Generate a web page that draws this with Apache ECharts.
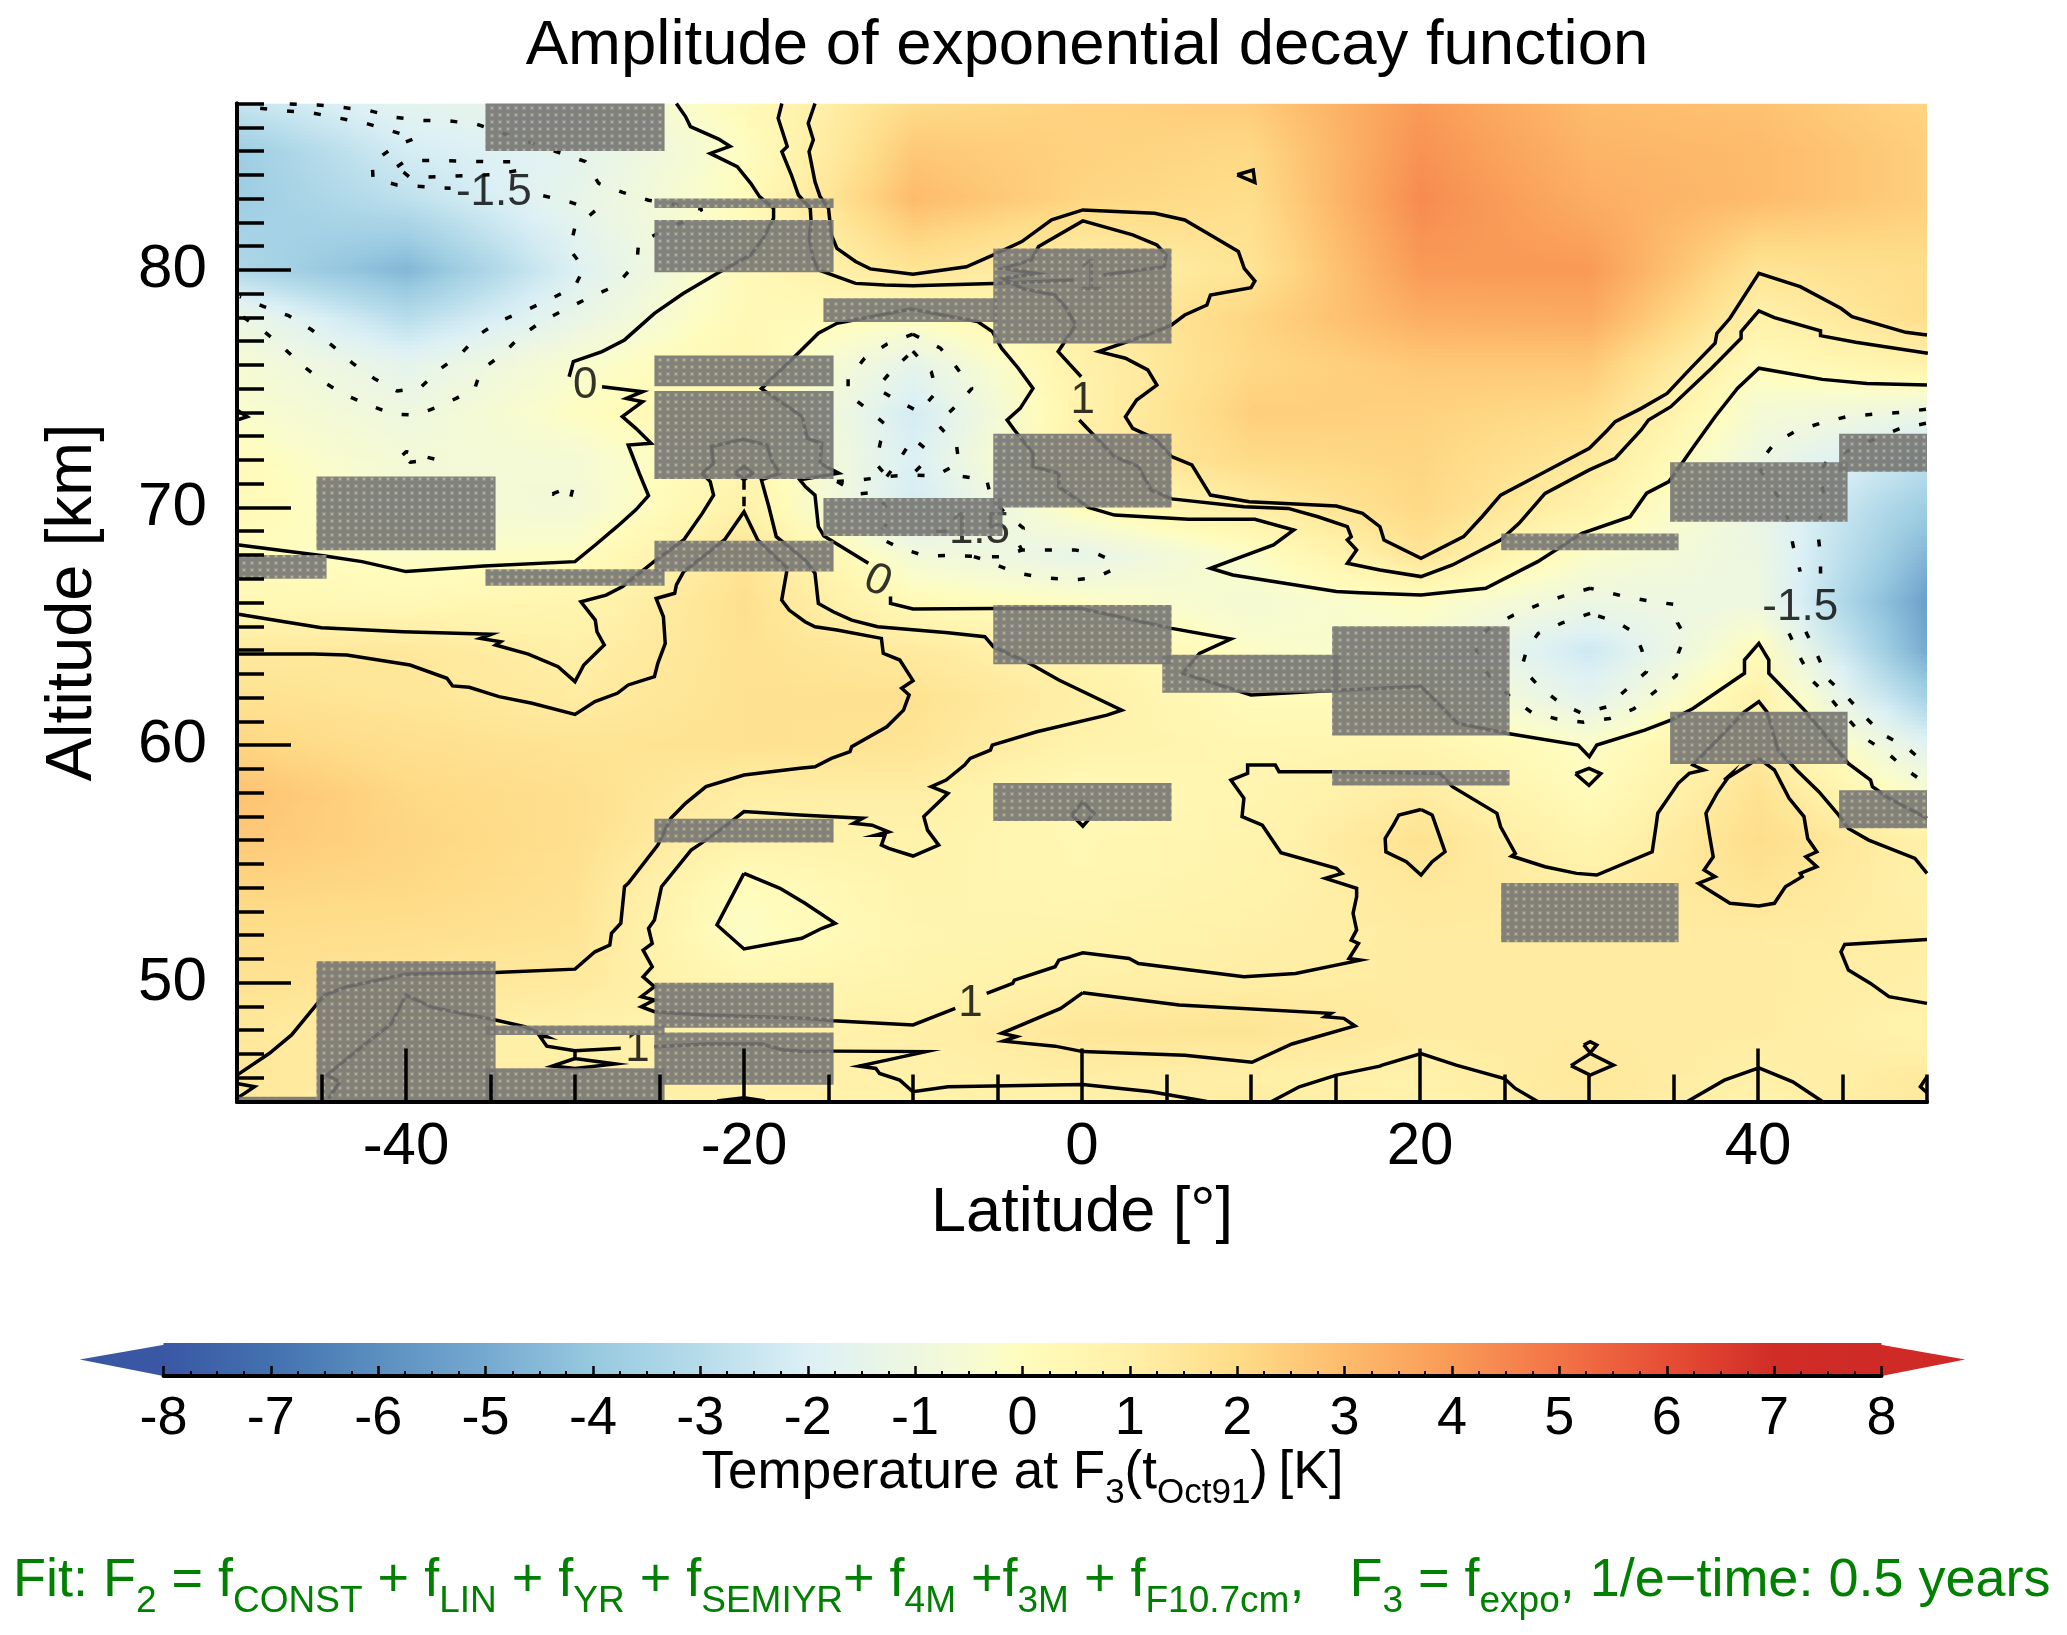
<!DOCTYPE html>
<html>
<head>
<meta charset="utf-8">
<style>html,body{margin:0;padding:0;background:#fff}#chart{width:2067px;height:1635px}</style>
<script src="https://cdn.jsdelivr.net/npm/echarts@6/dist/echarts.min.js"></script>
</head>
<body>
<div id="chart"></div>
<script>
const FONT = '"Liberation Sans", Arial, Helvetica, sans-serif';

// ---- temperature field (K) ----
const latitudes = [-50,-40,-30,-20,-10,0,10,20,30,40,50];
const altitudes = [87,85,83,80,78,76,74,72,70,68,66,64,62,60,58,56,54,52,50,48,46,45];
const temperature = [
 [-2.6,-1.6,-1.2, 0.2, 2.0, 2.3, 2.5, 4.0, 3.0, 2.8, 2.2],
 [-3.8,-2.2,-1.6,-0.1, 2.6, 2.3, 2.1, 4.2, 3.2, 3.0, 2.4],
 [-3.8,-2.8,-1.4, 0.1, 3.0, 2.2, 1.9, 4.4, 3.4, 3.0, 2.4],
 [-3.2,-4.6,-1.9, 0.2, 1.6, 0.9, 1.6, 4.0, 4.0, 1.6, 1.9],
 [-1.1,-3.0,-1.3, 0.3, 0.0, 1.0, 2.2, 3.4, 3.5, 0.9, 1.9],
 [-0.5,-1.5,-0.4, 0.5,-1.5, 0.9, 2.1, 2.6, 2.6, 0.1, 0.8],
 [-0.3,-1.0,-0.1, 0.6,-2.2, 0.8, 2.4, 2.3, 2.0,-0.6,-1.1],
 [ 0.1,-0.7,-0.6, 0.5,-2.0, 1.1, 2.0, 2.2, 1.4,-1.0,-2.8],
 [ 0.3,-0.6,-0.7, 0.9,-2.2, 0.1, 1.1, 2.1, 0.8,-1.3,-3.8],
 [ 0.0,-0.2,-0.1, 1.6,-0.7,-1.4,-0.2, 1.6,-0.3,-1.1,-4.6],
 [ 0.4, 0.3, 0.6, 1.8, 0.2,-0.1,-0.6,-0.1,-1.1,-1.0,-5.4],
 [ 1.3, 1.4, 1.0, 1.7, 1.3, 0.7,-0.2,-0.5,-2.4, 0.1,-5.0],
 [ 1.7, 1.5, 1.2, 1.7, 1.7, 1.0, 0.1, 0.1,-1.6, 0.9,-3.6],
 [ 2.2, 1.8, 1.6, 1.7, 1.6, 0.8, 0.5, 0.6,-0.2, 1.3,-1.7],
 [ 2.8, 2.1, 1.8, 1.1, 1.1, 0.2, 0.6, 1.2, 0.1, 1.7,-0.4],
 [ 2.6, 2.2, 1.8, 0.8, 0.8, 0.4, 0.7, 1.7, 0.6, 1.9, 0.9],
 [ 2.2, 2.1, 1.7, 0.0, 0.7, 0.5, 0.8, 1.4, 1.1, 1.6, 0.9],
 [ 1.9, 1.8, 1.6,-0.2, 0.6, 0.7, 1.0, 1.2, 1.2, 1.2, 1.1],
 [ 1.7, 1.5, 1.3, 0.5, 0.7, 1.0, 1.1, 1.2, 1.2, 1.2, 1.0],
 [ 1.4, 1.1, 0.9, 0.8, 1.0, 1.5, 1.6, 1.2, 1.2, 1.2, 0.8],
 [ 1.5, 1.0, 1.1, 0.9, 0.9, 1.1, 1.0, 0.9, 1.4, 0.95,1.3],
 [ 1.4, 0.9, 1.0, 0.98,0.8, 0.9, 1.2, 0.8, 1.3, 0.85,1.3]
];

// ---- colour scale ----
const scaleValues = [-8,-7,-6,-5,-4,-3,-2,-1,-0.3,0,1,2,3,4,5,6,7,8];
const scaleColors = ['#3a57a4','#4371b0','#5b8fc0','#76a9d0','#97c9e0','#b6dcea','#dcf0f6','#eef7e0','#f9fccc','#fffcbc','#fff0a8','#fedc88','#fdbb6c','#f99a57','#f37346','#e64e35','#d12d27','#cf2a26'];

// ---- grey masked cells [lat0, lat1, altLow, altHigh] ----
const maskBoxes = [
 [-35.3,-24.7,85.0,87.0],[-25.3,-14.7,82.6,83.0],[-25.3,-14.7,79.9,82.1],[-25.3,-14.7,75.1,76.4],
 [-25.3,-14.7,71.2,74.9],[-15.3,-5.0,77.8,78.8],[-5.25,5.3,76.9,80.9],[-5.25,5.3,70.0,73.1],
 [-45.3,-34.7,68.2,71.3],[-50,-44.7,67.0,68.0],[-35.3,-24.7,66.7,67.4],[-25.3,-14.7,67.3,68.6],
 [-15.3,-4.7,68.8,70.4],[-5.25,5.3,63.4,65.9],[4.75,15.3,62.2,63.8],[14.8,25.3,60.4,65.0],
 [14.8,25.3,58.3,58.95],[34.8,45.3,69.4,71.9],[44.8,50,71.5,73.1],[24.8,35.3,68.2,68.9],
 [34.8,45.3,59.2,61.4],[-5.25,5.3,56.8,58.4],[-25.3,-14.7,55.9,56.9],[44.8,50,56.5,58.1],
 [24.8,35.3,51.7,54.2],[-45.3,-34.7,45,50.9],[-35.3,-24.7,47.8,48.2],[-35.3,-24.7,45,46.4],
 [-25.3,-14.7,48.1,50],[-25.3,-14.7,45.7,47.9],[-50,-45.3,45,45.2]
];

// ---- contour lines [lat, alt] ----
const zeroWestUpper = [[-24,87],[-23.46,86.45],[-23.17,86.03],[-21.5,85.5],[-20.83,85.2],[-22,84.9],[-20.4,84.34],[-19.6,83.64],[-19.08,83.08],[-18.25,82.6],[-18.25,82.17],[-18.86,81.33],[-19.6,80.63],[-21.6,79.85],[-23.6,79],[-25.3,78.17],[-27.07,77.05],[-28.4,76.56],[-30.1,76.14],[-30.35,75.5]];
const zeroWestLower = [[-28.4,75.08],[-26,74.87],[-26.96,74.59],[-26,74.45],[-27.2,73.82],[-26.4,73.33],[-25.5,72.7],[-26.85,72.63],[-26.2,71.44],[-25.65,70.5],[-26.4,69.9],[-27.5,69.2],[-28.8,68.42],[-30,67.72],[-35.4,67.54],[-40,67.3],[-42.6,67.72],[-44.8,67.96],[-50,68.43]];
const oneHalfUpper = [[-15.8,87],[-16.2,86.17],[-15.9,85.47],[-16.15,84.97],[-15.8,83.71],[-15.5,83.08],[-15,82.59],[-14.83,81.47],[-14.5,80.9],[-13.4,80.35],[-12.53,80.04],[-10,79.81],[-6.84,80.13],[-5.24,80.63],[-3.56,81.19],[-1.8,82.1],[0.05,82.52],[4.3,82.38],[6.08,82.1],[7.6,81.47],[9.25,80.77],[9.6,80.06],[10.23,79.53],[10,79.25],[7.6,78.94],[7.39,78.52],[6.08,78.1],[5.3,77.68],[4.1,77.33],[1,76.56],[2.57,76.28],[3.89,75.79],[4.43,75.15],[3.23,74.52],[2.57,73.82],[3,73.33],[4.3,72.9],[5.3,72.14],[6.5,71.79],[7.6,70.52],[9.9,70.24],[12.64,70.15],[15.05,70.06],[16.6,69.75],[17.63,69.19],[17.87,68.63],[20.06,67.86],[22.58,68.77],[23.67,69.61],[24.77,70.52],[27.4,71.5],[30.02,72.49],[31.1,73.26],[31.55,73.61],[33.09,74.17],[34.62,74.8],[35.93,75.79],[37.46,76.91],[37.57,77.33],[38.34,77.96],[40.05,79.85],[42.5,79.29],[44.9,78.38],[45.56,78.03],[48.74,77.37],[50,77.26]];
const oneUpperA = [[-17.76,87],[-17.98,86.38],[-17.44,85.19],[-17.76,84.97],[-17.2,84],[-16.78,83.15],[-16.08,82.59],[-16.03,82.03],[-16.14,81.33],[-15.92,80.49],[-15.6,80],[-14.5,79.71],[-13.4,79.43],[-11.66,79.36],[-10,79.33],[-6.84,79.39],[-5.24,79.43],[-0.49,79.57]];
const oneUpperB = [[1.26,79.78],[4.87,80.13],[4.98,80.63],[4.43,81.05],[3,81.47],[0.05,82.06],[-2.57,80.98],[-3,80.42],[-4.65,80.06],[-2.68,79.85],[-4.65,79.64],[-3.56,79.22],[-1.6,78.94],[-0.93,78.38],[-0.38,77.68],[-1.15,76.84],[-1.41,76.56],[-0.05,75.5]];
const oneUpperC = [[-0.16,73.68],[1.15,72.7],[1.92,72.14],[3.34,71.72],[4.1,70.73],[5.31,70.36],[9.58,70.03],[12.2,69.96],[13.96,69.61],[15.7,69.19],[15.93,68.77],[15.7,68.63],[16.25,68.21],[15.7,67.65],[17.63,67.37],[20.06,67.09],[21.92,67.58],[24.77,68.63],[25.86,69.33],[27.4,70.59],[30.02,71.58],[31.55,72.07],[33.09,73.26],[33.52,73.68],[34.84,74.24],[37.25,75.86],[39,77.12],[39,77.4],[40.05,78.27],[40.97,77.99],[43.7,77.43],[43.7,77.23],[45.78,76.95],[50.05,76.49]];
const zeroMainA = [[50,75.15],[46.44,75.22],[43.81,75.39],[40.05,75.86],[38.78,75.01],[37.46,73.82],[36.26,72.63],[35.5,71.86],[34.73,71.09],[33.41,70.6],[32.43,69.61],[29.58,68.91],[26.96,67.72],[23.89,66.6],[20.06,66.32],[16.45,66.41],[15.05,66.46],[8.92,67.16],[7.6,67.44],[11.33,68.42],[12.53,69.05],[10.23,69.5],[6.3,69.5],[1.92,69.68],[0.38,70],[-1.37,70.87],[-1.37,71.44],[-2.9,71.72],[-2.9,72.28],[-4,73.26],[-4.43,73.68],[-3.66,74.17],[-2.9,75.01],[-3.77,75.86],[-4.76,76.7],[-5.3,77.4],[-6.18,77.82],[-10.12,78.35],[-14.5,77.75],[-15.6,77.33],[-16.69,76.56],[-18.97,75],[-16.56,73.82],[-16.25,72.91],[-15.4,72.7],[-15.5,71.86],[-14.4,71.44],[-16.69,71.16],[-16.36,70.87],[-15.8,70.52],[-15.6,69.19],[-15.27,68.8],[-12.64,67.65]];
const zeroMainB = [[-11.33,66.25],[-11.33,65.96],[-10,65.73],[-5.24,65.75],[-0.05,65.75],[5.31,64.91],[8.81,64.46],[6.95,63.86],[5.97,63.02],[10,62.11],[13.74,62.25],[17.63,62.39],[20.06,62.46],[22.25,60.91],[25.2,60.49],[29.36,60],[30.02,59.51],[30.46,60],[33.3,60.63],[34.84,61.05],[36.15,61.54],[39.2,63.02],[39.2,63.58],[40.05,64.28],[40.64,63.58],[40.64,63.02],[42.83,61.41],[45.34,59.23],[46.66,58.53],[46.77,58.25],[47.75,57.76],[50,56.92]];
const oneMainA = [[-50,65.52],[-47.2,65.19],[-45,64.94],[-40.2,64.77],[-34.95,64.66],[-35.6,64.49],[-34.4,64.35],[-34.7,64.21],[-32.76,63.83],[-31,63.3],[-30,62.67],[-29.48,63.37],[-28.27,64.21],[-28.7,64.77],[-28.8,65.26],[-29.65,66.03],[-28.16,66.31],[-27.18,66.67],[-25.2,67.79],[-23.57,68.63],[-22.47,69.75],[-21.8,70.52],[-22,71.09],[-22.47,71.44],[-21.8,71.86],[-21.93,72.56],[-20.06,72.87],[-18.64,72.63],[-18.3,71.86],[-17.87,71.44],[-18.97,71.16],[-18.53,70.03],[-18.09,68.77],[-16.39,67.79],[-15.8,67.23],[-15.6,65.96],[-14.72,65.61],[-13.63,65.26],[-12.09,64.98],[-7.93,64.73],[-5.75,64.56],[-5.24,64.14],[-3.12,63.44],[-1.37,62.74],[2.35,61.47],[1.48,61.26],[-2.68,60.56],[-5.31,60],[-5.42,59.79],[-6.62,59.44],[-6.95,59.16],[-8.04,58.53],[-8.92,58.25],[-7.93,57.97],[-9.36,56.99],[-9.14,56.42],[-8.48,55.79],[-10,55.33],[-11.44,55.65],[-11.87,55.79],[-11.66,56.21],[-12.2,56.21],[-11.44,56.35],[-12.42,56.63],[-13.52,56.71],[-12.97,56.92],[-16.69,57.06],[-20,57.2],[-21.16,56.56],[-22.69,55.79],[-23.13,55.58],[-24.88,54.04],[-25.3,52.64],[-25.65,52.29],[-25.43,51.65],[-25.97,51.37],[-25.43,50.67],[-25.97,50.25],[-25.3,49.83],[-26.08,49.41],[-25.3,49.27],[-26.08,48.99],[-25.3,48.78],[-22.25,48.64],[-16.39,48.5],[-14.72,48.4],[-10,48.22],[-7.5,48.92]];
const oneMainB = [[-5.64,49.55],[-4.1,49.97],[-4,50.11],[-1.59,50.67],[-1.37,50.95],[0.05,51.26],[2.79,51.02],[3.34,50.81],[9.58,50.25],[12.64,50.39],[16.47,50.95],[15.8,51.02],[16.36,51.65],[15.93,51.79],[16.25,52.22],[16.04,52.92],[16.25,53.62],[16.25,53.97],[14.4,54.39],[15.38,54.6],[15.05,54.81],[11.77,55.47],[10.67,56.63],[9.47,56.99],[9.58,57.76],[8.81,58.53],[9.8,58.81],[9.8,59.16],[11.44,59.16],[11.66,58.88],[14.83,58.88],[21.16,58.81],[21.92,58.25],[24.55,57.13],[24.77,56.56],[25.64,55.44],[25.42,55.33],[27.4,54.88],[29.26,54.6],[30.46,54.53],[33.74,55.51],[33.96,56.56],[34.07,57.13],[35.28,58.39],[35.93,58.81],[36.8,58.95],[36.15,59.16],[39.2,61.4],[40.05,61.83],[40.53,61.4],[41.19,59.79],[42.28,58.95],[43.6,58.04],[44.69,57.13],[45.35,56.49],[46.55,56],[49.29,55.23],[50,54.6]];
const oneHalfMain = [[-50,63.83],[-45.46,63.83],[-43.5,63.79],[-39.76,63.37],[-37.58,62.81],[-37.25,62.49],[-36.26,62.43],[-34.5,62.04],[-32.54,61.76],[-30,61.29],[-28.82,61.83],[-27.5,62.18],[-26.85,62.53],[-25.3,62.88],[-25.1,63.44],[-24.66,64.28],[-24.77,65.4],[-25.2,66.17],[-24.1,66.39],[-24,66.74],[-23.57,67.3],[-21.16,68.63],[-20,69.82],[-19.19,68.63],[-17.44,67.44],[-17.77,66.1],[-17.33,65.68],[-16.39,65.19],[-15.8,64.98],[-14.5,64.84],[-11.87,64.49],[-11.76,63.86],[-10.78,63.58],[-10,62.71],[-10.67,62.39],[-10.23,62.11],[-10.56,61.47],[-11.55,60.77],[-13.63,59.93],[-13.73,59.72],[-14.83,59.44],[-15.8,59.09],[-16.69,59.02],[-20,58.74],[-22.25,58.25],[-23.46,57.55],[-24.33,56.92],[-25.1,55.79],[-26.85,54.18],[-27.07,54.04],[-27.29,52.5],[-27.84,52.08],[-27.94,51.58],[-28.82,51.3],[-30,50.57],[-34.71,50.43],[-40,50.36],[-43.49,49.83],[-44.8,49.48],[-45.24,49.13],[-46.77,47.8],[-48.08,47.03],[-50,46.11]];
const oneLowerA = [[-44.58,45.13],[-43.92,45.83],[-44.69,46.11],[-42.61,47.3],[-40.86,48.29],[-40,49.48],[-38.45,48.96],[-34.71,48.43],[-32.98,48.15],[-31.67,47.73],[-32.1,47.77],[-31.67,47.33],[-30,47.14],[-27.29,47.24]];
const oneLowerB = [[-25.3,47.3],[-22.25,47.42],[-18.97,47.42],[-17.66,47.17],[-16.39,47.1],[-14.72,47.12],[-9.25,47.1],[-11.55,46.74],[-13.19,46.49],[-12.2,46.39],[-11.98,46.18],[-10.78,45.9],[-10.01,45.41],[-7.93,45.62],[0.05,45.72],[4.1,45.41],[7.39,45]];
const loopWest30 = [[-31.34,46.49],[-30,46.81],[-27.62,46.58],[-30,46.39],[-31.34,46.49],[-30,46.81],[-30,47.14]];
const peakSouth20 = [[-21.6,45.02],[-20,45.16],[-18.75,45.02]];
const edgeLow = [[-50,45.76],[-48.96,45.62],[-50,45.13]];
const edgeHigh = [[-50,74.1],[-49.4,73.82],[-50,73.68]];
const lowerRight = [[50,51.82],[45.13,51.61],[44.91,51.3],[45.35,50.53],[46.66,49.97],[47.75,49.41],[50,49.13]];
const bottom20 = [[11.22,45],[12.86,45.62],[15.05,46.11],[17.63,46.49],[17.76,46.53],[20.06,47.02],[22.14,46.53],[24.99,45.97],[25.64,45.55],[26.96,45]];
const bottom40 = [[35.82,45],[38.01,45.9],[40.05,46.42],[42.06,45.83],[43.81,45]];
const diamond30 = [[28.93,46.51],[30.07,47.02],[31.45,46.53],[30.07,46.11],[28.93,46.51]];
const diamond30Top = [[29.69,47.38],[30.07,47.52],[30.46,47.38],[30.07,47.05],[29.69,47.38]];
const diamond30Mid = [[29.2,58.8],[30,59.02],[30.7,58.8],[30,58.3],[29.2,58.8]];
const edge50 = [[50,46.04],[49.61,45.62],[50,45.37]];
const loopLowCentre = [[0.05,49.58],[-1.26,48.92],[-4.76,47.87],[-3.88,47.73],[-4.65,47.54],[-1.59,47.33],[0.05,47.1],[6.08,46.95],[10.06,46.65],[12.42,47.42],[16.15,48.18],[15.49,48.5],[14.39,48.57],[14.72,48.71],[5.75,49.06],[0.05,49.58]];
const loop20 = [[20.06,57.29],[18.75,57.06],[18.42,56.63],[17.94,56.07],[17.98,55.51],[19.19,55.09],[20.06,54.53],[20.72,55.09],[21.48,55.51],[20.72,57.06],[20.06,57.29]];
const loop40 = [[40.05,59.44],[38,58.53],[38.34,58.74],[37.57,57.97],[36.92,57.13],[37.14,56.15],[37.35,55.3],[36.81,54.74],[37.46,54.46],[36.48,54.18],[37.25,53.83],[38.34,53.34],[40.05,53.23],[40.97,53.34],[41.62,54.04],[42.61,54.46],[42.5,54.6],[43.48,54.88],[42.83,55.3],[43.48,55.51],[42.94,56.07],[42.72,56.99],[41.84,57.76],[40.97,58.95],[40.05,59.44]];
const islandWest = [[-20,54.6],[-17.87,53.97],[-16.39,53.34],[-14.61,52.5],[-15.38,52.29],[-16.58,51.87],[-20,51.42],[-21.6,52.43],[-20,54.6]];
const triangleTop = [[9.18,84],[10.13,84.2],[10.23,83.68],[9.18,84]];
const diamondWest20 = [[-20.5,71.44],[-20,71.72],[-19.5,71.44],[-20,71.16],[-20.5,71.44]];
const stemWest20 = [[-20,71.16],[-20,70.75]];
const stemWest20b = [[-20,70.45],[-20,70.05]];
const diamond0 = [[-0.6,57.06],[0.05,57.62],[0.71,57.13],[0.05,56.59],[-0.6,57.06]];

const dashTopA = [[-48.63,86.8],[-47.1,86.69],[-45.46,86.59],[-43.92,86.38],[-42.39,86.17],[-40.86,85.84],[-39.44,85.54],[-40.68,85.19],[-42,84.51],[-41.95,83.85],[-40.53,83.57],[-38.89,83.5],[-37.36,83.43]];
const dashTopB = [[-31.88,83.12],[-30.24,82.84],[-28.82,82.48],[-30.02,81.75],[-30.31,80.86],[-29.48,80.06],[-30.02,79.29],[-31.45,78.77],[-32.87,78.31],[-34.4,77.86],[-35.71,77.26],[-36.81,76.42],[-38.06,75.79],[-39.15,75.04],[-40.53,74.9],[-41.89,75.43],[-43.16,76.07],[-44.36,76.81],[-45.63,77.5],[-46.94,78.07],[-48.41,78.45],[-49.83,78.87]];
const dashOuter = [[-46.88,86.98],[-45.24,86.94],[-43.7,86.83],[-42.11,86.69],[-40.57,86.41],[-39,86.29],[-37.47,86.27],[-35.82,86.13],[-29.37,84.55],[-28.6,83.64],[-27.18,83.26],[-25.65,82.93],[-22.47,82.55],[-23.57,82.03],[-24.88,81.61],[-26.24,81.12],[-26.3,80.6],[-26.74,80],[-27.62,79.32],[-29.04,78.87],[-30.46,78.38],[-31.88,77.86],[-33.2,77.22],[-34.29,76.44],[-35.56,75.79],[-35.93,75.01],[-37.03,74.59],[-38.23,74.2],[-39.44,73.89],[-40.82,73.93],[-42.28,74.34],[-43.7,74.77],[-45.06,75.36],[-46.27,76.07],[-47.43,76.84],[-48.63,77.54],[-49.83,78.1]];
const dashTongue = [[-40.53,84.34],[-39.98,84.6],[-38.34,84.6],[-36.7,84.58],[-35.12,84.55],[-33.53,84.55],[-33.2,84.2],[-34.95,84],[-36.53,83.96],[-38.12,83.92],[-39.76,83.88],[-40.53,84.34]];
const dashPatchA = [[-10.01,77.29],[-8.37,76.7],[-7.39,75.86],[-6.51,75.01],[-7.54,74.22],[-8.55,73.5],[-7.43,72.63],[-7.28,71.86],[-8.7,71.32],[-10.08,71.37],[-11.55,71.3],[-13.08,71.16],[-14.5,71.09]];
const dashPatchB = [[-10.01,77.29],[-11.55,76.87],[-12.86,76.28],[-13.84,75.43],[-13.84,74.77],[-12.64,74.1],[-11.55,73.44],[-11.92,72.77],[-12.2,71.86],[-11.55,71.3]];
const dashPatchC = [[-10.01,76.58],[-8.92,75.71],[-8.59,74.87],[-9.64,74.03],[-10.82,74.45],[-12.16,75.01],[-11.17,75.83],[-10.01,76.58]];
const dashPatchD = [[-11.55,71.3],[-10.82,72],[-10.01,72.91],[-9.29,72.49],[-9.47,71.79],[-10.08,71.37]];
const dashPatchE = [[-14.5,71.09],[-13.19,70.57],[-12.2,70.64],[-11.22,69.61],[-12.14,68.77],[-10.74,68.28],[-9.25,67.96],[-7.65,67.98],[-6.18,67.93],[-4.76,67.93],[-3.56,68.21],[-2.02,68.21],[-0.43,68.21],[0.82,68.07],[1.7,67.79],[1.87,67.4],[0.82,67.04],[-0.6,66.95],[-2.24,67.04],[-3.77,67.23],[-5.09,67.58],[-5.75,67.79],[-6.4,67.93]];
const dashPatchF = [[-7.06,71.3],[-5.64,71.16],[-5.42,70.52],[-4.54,69.75],[-3.45,69.12],[-3.88,68.84],[-3.77,68.49],[-3.56,68.21]];
const dashEastOuter = [[30.07,66.6],[28.38,66.25],[26.96,65.89],[25.53,65.47],[24.22,64.98],[23.24,64.42],[23.45,63.58],[24.22,62.81],[25.32,62.04],[26.63,61.36],[28.1,61.1],[29.69,60.96],[31.23,61.12],[32.65,61.52],[33.85,62.22],[35.17,62.92],[35.28,63.86],[35.67,64.59],[35.23,65.15],[35.28,65.61],[35.01,65.92],[33.41,66.08],[31.88,66.29],[30.07,66.6]];
const dashEastInner = [[30.07,65.54],[28.45,65.15],[27,64.7],[26.34,64.07],[26.02,63.27],[26.96,62.53],[28.23,61.8],[29.58,61.33],[31.07,61.61],[32.21,62.34],[33.41,63.09],[33.13,64],[32.69,64.73],[31.71,65.16],[30.07,65.54]];
const dashRightA = [[49.94,74.13],[48.37,74],[46.77,73.92],[45.24,73.82],[43.66,73.54],[42.17,73.19],[40.97,72.7],[39.98,71.79],[40.75,70.87],[41.58,70.1],[41.84,69.22],[42.1,68.32],[42.5,67.3]];
const dashRightB = [[41.84,64.7],[42.54,63.62],[43.27,62.67],[44.36,61.9],[45.39,61.05],[46.33,60.28],[47.58,59.72],[48.74,58.98],[49.94,58.39]];
const dashRightC = [[49.94,73.54],[48.41,73.33],[46.99,72.91],[44.14,72],[43.59,71.44],[43.92,70.52],[43.53,68.98],[43.7,68],[43.7,67.02]];
const dashRightD = [[42.83,64.77],[43.55,63.72],[44.14,62.77],[45.3,62],[46.33,61.19],[47.38,60.45],[48.74,59.93],[49.9,59.23]];
const dashSmallA = [[-40.2,72.21],[-39.98,72.35],[-39.55,72.25],[-38.28,72.03],[-39.76,71.9],[-40.2,72.21]];
const dashSmallB = [[-31.34,70.57],[-30.09,70.92],[-30.29,70.31],[-31.34,70.57]];

const solidContours = [zeroWestUpper,zeroWestLower,oneHalfUpper,oneUpperA,oneUpperB,oneUpperC,zeroMainA,zeroMainB,oneMainA,oneMainB,oneHalfMain,oneLowerA,oneLowerB,loopWest30,peakSouth20,edgeLow,edgeHigh,lowerRight,bottom20,bottom40,diamond30,diamond30Top,diamond30Mid,edge50,loopLowCentre,loop20,loop40,islandWest,triangleTop,diamondWest20,stemWest20,stemWest20b,diamond0];
const dashedContours = [dashTopA,dashTopB,dashOuter,dashTongue,dashPatchA,dashPatchB,dashPatchC,dashPatchD,dashPatchE,dashPatchF,dashEastOuter,dashEastInner,dashRightA,dashRightB,dashRightC,dashRightD,dashSmallA,dashSmallB];

// ---- contour labels [lat, alt, text, rotation] ----
const contourLabels = [
 [-34.8,83.25,'-1.5',0],[-29.4,75.1,'0',0],[0.05,74.5,'1',0],[0.5,79.65,'1',0],
 [-6.5,69,'-1.5',0],[-12.1,66.9,'0',-25],[42.5,65.77,'-1.5',0],[-6.6,49.1,'1',0],[-26.3,47.2,'1',0]
];

const latMajor = [-40,-20,0,20,40];
const altMajor = [50,60,70,80];

// ---- helpers ----
function hexRgb(h){return [parseInt(h.slice(1,3),16),parseInt(h.slice(3,5),16),parseInt(h.slice(5,7),16)];}
const scaleRgb = scaleColors.map(hexRgb);
function colourOf(v){
  if(v<=scaleValues[0]) return scaleColors[0];
  for(let i=1;i<scaleValues.length;i++){
    if(v<=scaleValues[i]){
      const t=(v-scaleValues[i-1])/(scaleValues[i]-scaleValues[i-1]);
      const a=scaleRgb[i-1],b=scaleRgb[i];
      return 'rgb('+[0,1,2].map(k=>Math.round(a[k]+(b[k]-a[k])*t)).join(',')+')';
    }
  }
  return scaleColors[scaleColors.length-1];
}
function mix(a,b,t){return a+(b-a)*t;}

const cells=[];
for(let r=0;r<altitudes.length-1;r++)for(let c=0;c<latitudes.length-1;c++)cells.push([latitudes[c],altitudes[r],c,r]);

function renderCell(params,api){
  const c=api.value(2),r=api.value(3);
  const p0=api.coord([latitudes[c],altitudes[r]]),p1=api.coord([latitudes[c+1],altitudes[r+1]]);
  const h=p1[1]-p0[1],n=Math.max(2,Math.round(h/4)),children=[];
  for(let k=0;k<n;k++){
    const t=(k+0.5)/n;
    const vL=mix(temperature[r][c],temperature[r+1][c],t),vR=mix(temperature[r][c+1],temperature[r+1][c+1],t);
    const stops=[0,0.25,0.5,0.75,1].map(s=>({offset:s,color:colourOf(mix(vL,vR,s))}));
    children.push({type:'rect',shape:{x:p0[0],y:p0[1]+k*h/n,width:p1[0]-p0[0]+1,height:h/n+1},
      style:{fill:new echarts.graphic.LinearGradient(0,0,1,0,stops)},silent:true});
  }
  return {type:'group',children};
}

const tile=document.createElement('canvas');tile.width=8;tile.height=7;
(function(){const g=tile.getContext('2d');g.fillStyle='#747474';g.fillRect(0,0,8,7);
  g.fillStyle='#86867c';g.fillRect(2,1,4,4);g.fillStyle='#a8a78a';g.fillRect(3,2,2,2);})();

function renderBox(params,api){
  const a=api.coord([api.value(0),api.value(3)]),b=api.coord([api.value(1),api.value(2)]);
  return {type:'rect',shape:{x:a[0],y:a[1],width:b[0]-a[0],height:b[1]-a[1]},
    style:{fill:{image:tile,repeat:'repeat'},opacity:0.9},silent:true};
}

function renderColourbar(params,api){
  const grad=scaleValues.map((v,i)=>({offset:(v+8)/16,color:scaleColors[i]}));
  const a=api.coord([-8,1]),b=api.coord([8,0]);
  const pts=l=>l.map(q=>api.coord(q));
  return {type:'group',children:[
    {type:'polygon',shape:{points:pts([[-8,0],[-8.78,0.5],[-7.9,1],[-7.9,0]])},style:{fill:scaleColors[0]},silent:true},
    {type:'polygon',shape:{points:pts([[8,0],[8.78,0.5],[7.9,1],[7.9,0]])},style:{fill:scaleColors[scaleColors.length-1]},silent:true},
    {type:'rect',shape:{x:a[0],y:a[1],width:b[0]-a[0],height:b[1]-a[1]},
      style:{fill:new echarts.graphic.LinearGradient(0,0,1,0,grad)},silent:true}
  ]};
}

const solidSeries=solidContours.map(d=>({type:'line',data:d,xAxisIndex:0,yAxisIndex:0,symbol:'none',z:2,silent:true,animation:false,
  lineStyle:{color:'#000',width:3.5,join:'miter'}}));
const dashedSeries=dashedContours.map(d=>({type:'line',data:d,xAxisIndex:0,yAxisIndex:0,symbol:'none',z:2,silent:true,animation:false,
  lineStyle:{color:'#000',width:3.5,type:[7,20]}}));

const axisLine={show:true,onZero:false,lineStyle:{color:'#000',width:4}};
const chart=echarts.init(document.getElementById('chart'),null,{renderer:'canvas'});
chart.setOption({
  animation:false,
  backgroundColor:'#fff',
  textStyle:{fontFamily:FONT},
  title:{text:'Amplitude of exponential decay function',left:1082,top:9,textAlign:'center',
    textStyle:{fontSize:63.5,fontWeight:'normal',color:'#000',fontFamily:FONT}},
  grid:[
    {left:237,top:103.5,width:1690,height:998,containLabel:false},
    {left:163.5,top:1343,width:1718,height:33,containLabel:false}
  ],
  xAxis:[
    {type:'value',gridIndex:0,min:-50,max:50,interval:5,position:'bottom',z:10,splitLine:{show:false},
     axisLine,axisTick:{show:true,inside:true,length:27,lineStyle:{color:'#000',width:3.5}},axisLabel:{show:false}},
    {type:'value',gridIndex:0,min:-50,max:50,position:'bottom',z:10,splitLine:{show:false},
     axisLine,axisTick:{show:true,inside:true,length:53,customValues:latMajor,lineStyle:{color:'#000',width:3.5}},
     axisLabel:{show:true,customValues:latMajor,fontSize:60,color:'#000',margin:16,fontFamily:FONT,hideOverlap:false},
     name:'Latitude [°]',nameLocation:'middle',nameGap:77,nameTextStyle:{fontSize:63,color:'#000',fontFamily:FONT}},
    {type:'value',gridIndex:1,min:-8,max:8,interval:1,position:'bottom',z:10,splitLine:{show:false},
     axisLine,axisTick:{show:true,inside:true,length:10,lineStyle:{color:'#000',width:2.5}},
     minorTick:{show:true,splitNumber:4,length:5,lineStyle:{color:'#000',width:2}},minorSplitLine:{show:false},
     axisLabel:{show:true,fontSize:54,color:'#000',margin:16,fontFamily:FONT,showMinLabel:true,showMaxLabel:true},
     name:'{n|Temperature at F}{s|3}{n|(t}{s|Oct91}{n|)\u2009[K]}',nameLocation:'middle',nameGap:59,
     nameTextStyle:{color:'#000',fontFamily:FONT,rich:{
       n:{fontSize:53,color:'#000',fontFamily:FONT},
       s:{fontSize:35,color:'#000',fontFamily:FONT,padding:[40,0,0,0]}}}}
  ],
  yAxis:[
    {type:'value',gridIndex:0,min:45,max:87,interval:1,position:'left',z:10,splitLine:{show:false},
     axisLine,axisTick:{show:true,inside:true,length:27,lineStyle:{color:'#000',width:3.5}},axisLabel:{show:false}},
    {type:'value',gridIndex:0,min:45,max:87,position:'left',z:10,splitLine:{show:false},
     axisLine,axisTick:{show:true,inside:true,length:54,customValues:altMajor,lineStyle:{color:'#000',width:3.5}},
     axisLabel:{show:true,customValues:altMajor,fontSize:62,color:'#000',margin:30,padding:[8,0,0,0],fontFamily:FONT,hideOverlap:false},
     name:'Altitude [km]',nameLocation:'middle',nameGap:131,nameTextStyle:{fontSize:65,color:'#000',fontFamily:FONT}},
    {type:'value',gridIndex:1,min:0,max:1,show:false}
  ],
  series:[
    {type:'custom',coordinateSystem:'cartesian2d',xAxisIndex:0,yAxisIndex:0,data:cells,encode:{x:0,y:1},renderItem:renderCell,clip:true,z:1,silent:true,animation:false},
    ...solidSeries,
    ...dashedSeries,
    {type:'scatter',xAxisIndex:0,yAxisIndex:0,symbolSize:1,z:3,silent:true,animation:false,itemStyle:{color:'rgba(0,0,0,0)'},
     data:contourLabels.map(l=>({value:[l[0],l[1]],label:{formatter:l[2],rotate:l[3]}})),
     label:{show:true,position:'inside',fontSize:44,color:'#000',fontFamily:FONT}},
    {type:'custom',coordinateSystem:'cartesian2d',xAxisIndex:0,yAxisIndex:0,data:maskBoxes,encode:{x:[0,1],y:[2,3]},renderItem:renderBox,z:4,silent:true,animation:false},
    {type:'custom',coordinateSystem:'cartesian2d',xAxisIndex:2,yAxisIndex:2,data:[[0,0.5]],encode:{x:0,y:1},renderItem:renderColourbar,z:1,silent:true,animation:false}
  ],
  graphic:[{type:'text',left:13,top:1554,silent:true,style:{
    text:'{n|Fit: F}{s|2}{n| = f}{s|CONST}{n| + f}{s|LIN}{n| + f}{s|YR}{n| + f}{s|SEMIYR}{n|+ f}{s|4M}{n| +f}{s|3M}{n| + f}{s|F10.7cm}{n|,   F}{s|3}{n| = f}{s|expo}{n|, 1/e\u2212time: 0.5 years}',
    fill:'#008000',font:'54px '+FONT,
    rich:{n:{fontSize:54,fill:'#008000',fontFamily:FONT},s:{fontSize:37,fill:'#008000',fontFamily:FONT,padding:[42,0,0,0]}}
  }}]
});
</script>
</body>
</html>
